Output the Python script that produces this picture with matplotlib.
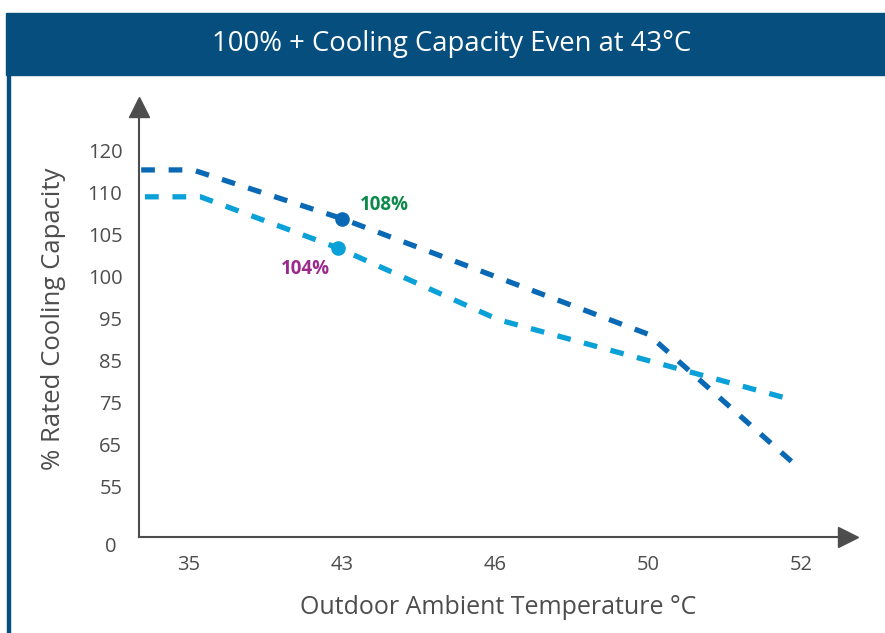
import numpy as np
import matplotlib
matplotlib.use("Agg")
import matplotlib.pyplot as plt
from matplotlib.patches import Rectangle
from matplotlib.transforms import ScaledTranslation

# tick values (axis is not linear: ticks are evenly spaced)
x_ticks = [35, 43, 46, 50, 52]
y_ticks = [0, 55, 65, 75, 85, 95, 100, 105, 110, 120]

# series
dark_temp = [32.5, 35.2, 43.0, 50.0, 51.9]
dark_cap = [115.4, 115.4, 106.9, 91.3, 60.6]
light_temp = [32.7, 35.6, 42.8, 46.1, 51.9]
light_cap = [109.5, 109.5, 103.4, 94.7, 75.6]

# highlighted points at 43 C
dark_pt = (43.0, 106.9)
light_pt = (42.8, 103.4)

GRAY = "#4d4d4d"
DARK = "#0a69b4"
LIGHT = "#0aa0d8"
BANNER = "#064e7e"

plt.rcParams['font.family'] = ['Open Sans', 'DejaVu Sans']


def piecewise(vals, pos):
    vals = np.asarray(vals, float)
    pos = np.asarray(pos, float)

    def f(v):
        v = np.asarray(v, float)
        out = np.interp(v, vals, pos)
        lo_slope = (pos[1] - pos[0]) / (vals[1] - vals[0])
        hi_slope = (pos[-1] - pos[-2]) / (vals[-1] - vals[-2])
        out = np.where(v < vals[0], pos[0] + (v - vals[0]) * lo_slope, out)
        out = np.where(v > vals[-1], pos[-1] + (v - vals[-1]) * hi_slope, out)
        return out
    return f


x_pos = np.arange(len(x_ticks))
y_pos = np.array([0] + [1.2 + i for i in range(len(y_ticks) - 1)])
x_fwd, x_inv = piecewise(x_ticks, x_pos), piecewise(x_pos, x_ticks)
y_fwd, y_inv = piecewise(y_ticks, y_pos), piecewise(y_pos, y_ticks)

W, H = 885, 633
fig = plt.figure(figsize=(W / 100, H / 100), dpi=100)

# banner + left border
fig.patches.append(Rectangle((6 / W, 1 - 75 / H), 879 / W, 62 / H,
                             transform=fig.transFigure, color=BANNER, zorder=0))
fig.patches.append(Rectangle((7 / W, 0), 3 / W, 1 - 75 / H,
                             transform=fig.transFigure, color=BANNER, zorder=0))
fig.text(452 / W, 1 - 44 / H, "100% + Cooling Capacity Even at 43°C",
         color="white", fontsize=19.8, ha="center", va="center")

ax = fig.add_axes([139 / W, 1 - 537 / H, (848 - 139) / W, (537 - 107) / H])
ax.set_xscale('function', functions=(x_fwd, x_inv))
ax.set_yscale('function', functions=(y_fwd, y_inv))
ax.set_xlim(float(x_inv(-50 / 153)), float(x_inv((848 - 189) / 153)))
ax.set_ylim(0, float(y_inv(430 / 42)))

dash = (2.6, 2.6)
ax.plot(dark_temp, dark_cap, color=DARK, lw=3.8, dashes=dash, clip_on=False)
ax.plot(light_temp, light_cap, color=LIGHT, lw=3.8, dashes=dash, clip_on=False)
ax.plot(*dark_pt, 'o', color=DARK, ms=9.5)
ax.plot(*light_pt, 'o', color=LIGHT, ms=9.5)
ax.annotate("108%", dark_pt, xytext=(42, 14), textcoords='offset pixels',
            color="#0b8a4a", fontsize=13.5, fontweight='bold', ha='center', va='center')
ax.annotate("104%", light_pt, xytext=(-33, -21), textcoords='offset pixels',
            color="#9c2a8c", fontsize=13.5, fontweight='bold', ha='center', va='center')

for s in ['top', 'right']:
    ax.spines[s].set_visible(False)
for s in ['left', 'bottom']:
    ax.spines[s].set_color(GRAY)
    ax.spines[s].set_linewidth(1.5)
ax.plot(1, 0, '>', color=GRAY, ms=14, transform=ax.transAxes, clip_on=False)
ax.plot(0, 1, '^', color=GRAY, ms=14, transform=ax.transAxes, clip_on=False)

ax.set_xticks(x_ticks)
ax.set_xticklabels([str(t) for t in x_ticks])
ax.set_yticks(y_ticks)
ax.set_yticklabels([str(t) for t in y_ticks])
ax.xaxis.set_minor_locator(matplotlib.ticker.NullLocator())
ax.yaxis.set_minor_locator(matplotlib.ticker.NullLocator())
ax.tick_params(axis='both', length=0, labelsize=14.5, labelcolor=GRAY)
ax.tick_params(axis='x', pad=13)
ax.tick_params(axis='y', pad=12)
zero = ax.get_yticklabels()[0]
zero.set_va('top')
zero.set_transform(zero.get_transform() + ScaledTranslation(-0.06, 0, fig.dpi_scale_trans))

fig.text(54 / W, 1 - 319 / H, "% Rated Cooling Capacity", rotation=90,
         color=GRAY, fontsize=18.5, ha='center', va='center')
fig.text(498 / W, 1 - 607 / H, "Outdoor Ambient Temperature °C",
         color=GRAY, fontsize=18, ha='center', va='center')

fig.savefig("out.png", dpi=100)
